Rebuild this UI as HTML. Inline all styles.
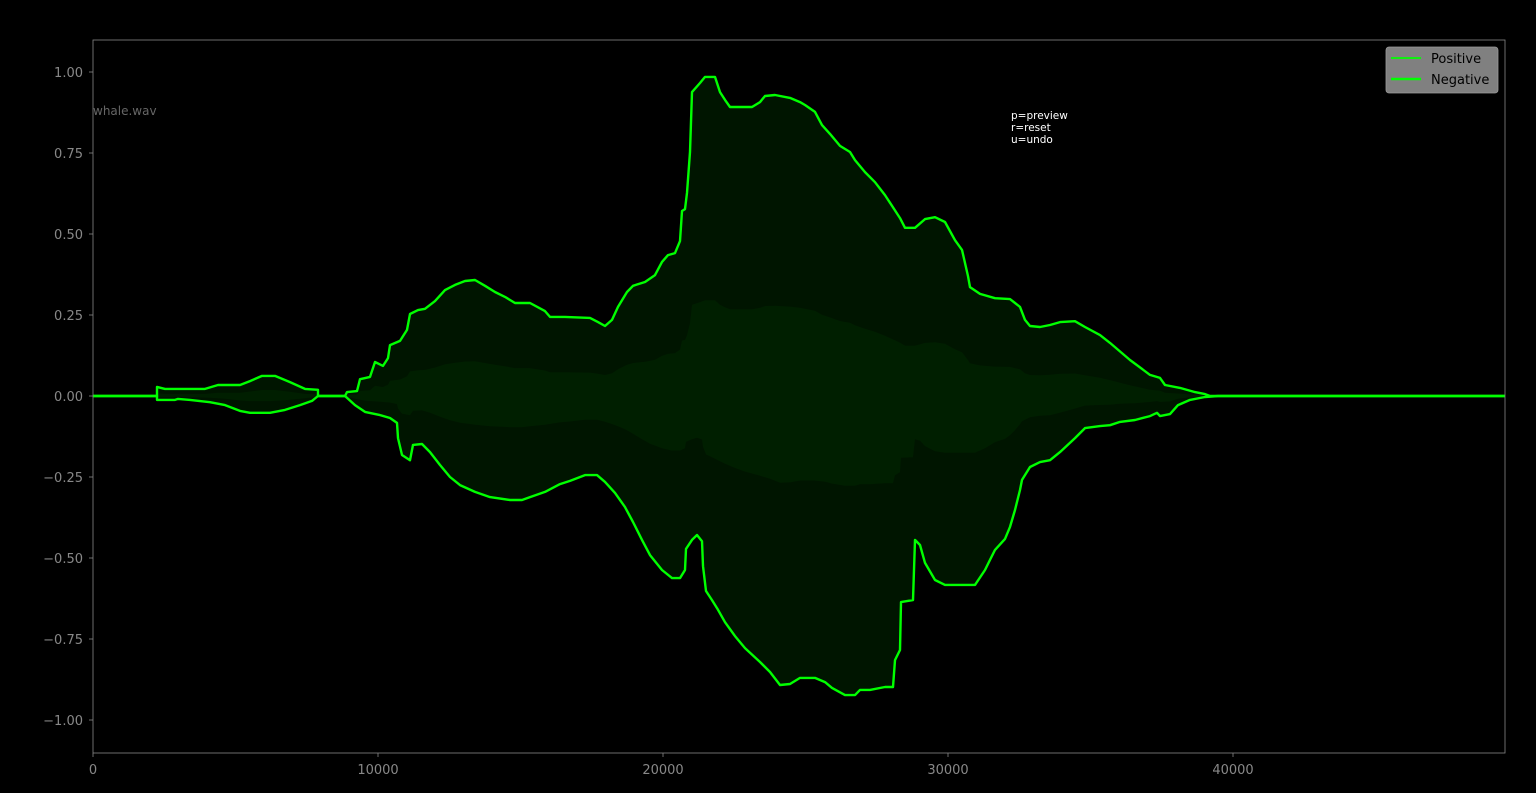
<!DOCTYPE html>
<html><head><meta charset="utf-8"><style>
html,body{margin:0;padding:0;background:#000;}
svg{display:block;font-family:"DejaVu Sans","Liberation Sans",sans-serif;}
</style></head><body>
<svg id="chart" width="1536" height="793" viewBox="0 0 1536 793">
<rect x="0" y="0" width="1536" height="793" fill="#000"/>
<g id="plot"></g>
<g id="axes"></g>
<text x="93" y="115" font-size="12" fill="#666">whale.wav</text>
<g font-size="10.5" fill="#fff">
<text x="1011" y="119">p=preview</text>
<text x="1011" y="131">r=reset</text>
<text x="1011" y="143">u=undo</text>
</g>
<g>
<rect x="1386" y="47" width="112" height="46" rx="3" fill="#808080" stroke="#999" stroke-width="0.8"/>
<line x1="1391" y1="58" x2="1421" y2="58" stroke="#00ff00" stroke-width="1.8"/>
<text x="1431" y="63" font-size="13" fill="#000">Positive</text>
<line x1="1391" y1="79" x2="1421" y2="79" stroke="#00ff00" stroke-width="2.6"/>
<text x="1431" y="84" font-size="13" fill="#000">Negative</text>
</g>
</svg>
<script>
const xTicks=[0,10000,20000,30000,40000];
const yTicks=[1.0,0.75,0.5,0.25,0.0,-0.25,-0.5,-0.75,-1.0];
const yTickLabels=["1.00","0.75","0.50","0.25","0.00","\u22120.25","\u22120.50","\u22120.75","\u22121.00"];
const posX=[0,2246,2246,2526,3930,4386,5158,5509,5930,6386,6912,7439,7895,7895,8842,8912,9263,9368,9719,9895,10175,10351,10421,10772,11018,11123,11404,11649,12000,12351,12702,13053,13404,13754,14105,14456,14807,15333,15860,16035,16561,17439,17719,17965,18211,18421,18737,18947,19368,19719,19965,20175,20421,20596,20667,20772,20842,20947,21018,21298,21474,21825,22000,22175,22351,23123,23404,23579,23930,24456,24807,24982,25333,25579,25860,26211,26561,26737,27088,27439,27789,28316,28491,28842,29193,29544,29895,30246,30491,30702,30772,31123,31649,32175,32526,32702,32877,33228,33579,33930,34456,34807,35333,35684,36386,37088,37439,37614,38140,38667,39018,39193,49544];
const posY=[0,0,0.028,0.022,0.022,0.034,0.034,0.046,0.062,0.062,0.043,0.022,0.019,0,0,0.012,0.015,0.052,0.059,0.105,0.093,0.117,0.157,0.170,0.204,0.253,0.265,0.269,0.293,0.327,0.343,0.355,0.358,0.340,0.321,0.306,0.287,0.287,0.262,0.244,0.244,0.241,0.228,0.216,0.235,0.275,0.321,0.340,0.352,0.373,0.414,0.435,0.441,0.478,0.571,0.577,0.627,0.753,0.938,0.966,0.985,0.985,0.938,0.914,0.892,0.892,0.907,0.926,0.929,0.920,0.907,0.898,0.877,0.836,0.809,0.772,0.753,0.728,0.691,0.660,0.620,0.549,0.519,0.519,0.546,0.552,0.537,0.481,0.451,0.370,0.336,0.315,0.302,0.299,0.275,0.235,0.216,0.213,0.219,0.228,0.231,0.213,0.188,0.164,0.111,0.065,0.056,0.034,0.025,0.012,0.006,0,0];
const negX=[0,2246,2246,2877,2982,3404,4105,4632,5158,5509,6211,6737,7263,7684,7895,8842,9193,9544,10070,10421,10667,10702,10842,11123,11228,11544,11825,12175,12526,12877,13404,13930,14632,15053,15333,15860,16386,16737,17263,17684,17965,18316,18667,18947,19263,19544,19965,20316,20596,20772,20807,21018,21193,21368,21404,21509,21719,21930,22175,22526,22877,23404,23754,24105,24456,24807,25333,25684,25930,26386,26737,26912,27263,27789,28070,28140,28316,28351,28772,28842,29018,29193,29544,29895,30947,31298,31474,31649,32000,32175,32351,32526,32596,32877,33228,33579,33930,34456,34807,35333,35684,36035,36561,37088,37333,37439,37789,38070,38491,39018,39474,49544];
const negY=[0,0,-0.012,-0.012,-0.009,-0.012,-0.019,-0.028,-0.046,-0.052,-0.052,-0.043,-0.028,-0.015,0,0,-0.028,-0.049,-0.059,-0.068,-0.083,-0.130,-0.182,-0.198,-0.151,-0.148,-0.173,-0.213,-0.250,-0.275,-0.296,-0.312,-0.321,-0.321,-0.312,-0.296,-0.272,-0.262,-0.244,-0.244,-0.265,-0.299,-0.343,-0.389,-0.444,-0.491,-0.537,-0.562,-0.562,-0.537,-0.472,-0.444,-0.429,-0.448,-0.525,-0.602,-0.630,-0.660,-0.698,-0.741,-0.778,-0.821,-0.852,-0.892,-0.889,-0.870,-0.870,-0.883,-0.901,-0.923,-0.923,-0.907,-0.907,-0.898,-0.898,-0.815,-0.784,-0.636,-0.630,-0.444,-0.460,-0.515,-0.568,-0.583,-0.583,-0.537,-0.506,-0.475,-0.441,-0.404,-0.352,-0.290,-0.259,-0.219,-0.204,-0.198,-0.173,-0.130,-0.099,-0.093,-0.090,-0.080,-0.074,-0.062,-0.052,-0.062,-0.056,-0.028,-0.012,-0.003,0,0];

const NS="http://www.w3.org/2000/svg";
const L=93,R=1505,T=40,B=753;
const xMax=49544;
const sx=v=>L+v/xMax*(R-L);
const sy=v=>396-v*324;
const plot=document.getElementById('plot'),axes=document.getElementById('axes');
function mk(tag,attrs,parent){const e=document.createElementNS(NS,tag);for(const k in attrs)e.setAttribute(k,attrs[k]);parent.appendChild(e);return e;}
function pts(xs,ys){return xs.map((x,i)=>sx(x).toFixed(1)+","+sy(ys[i]).toFixed(1));}

const body=mk('polygon',{points:pts(posX,posY).concat(pts(negX,negY).reverse()).join(" "),fill:"#001500"},plot);


const core=mk('polygon',{points:pts(posX,posY.map(v=>v*0.3)).concat(pts(negX,negY.map(v=>v*0.3)).reverse()).join(" "),fill:"#001f00"},plot);



const pl=mk('polyline',{points:pts(posX,posY).join(" "),fill:"none",stroke:"#00ff00","stroke-width":2.4,"stroke-linejoin":"round"},plot);


const nl=mk('polyline',{points:pts(negX,negY).join(" "),fill:"none",stroke:"#00ff00","stroke-width":2.4,"stroke-linejoin":"round"},plot);



const frame=mk('rect',{x:L,y:T,width:R-L,height:B-T,fill:"none",stroke:"#888","stroke-width":0.8},axes);


xTicks.forEach(v=>{
  const x=sx(v);
  const t=mk('line',{x1:x,y1:B,x2:x,y2:B+4,stroke:"#888","stroke-width":0.8},axes);
  
  
  const tx=mk('text',{x:x,y:B+21,"text-anchor":"middle","font-size":13,fill:"#888"},axes);
  tx.textContent=String(v);
  
  
});
yTicks.forEach((v,i)=>{
  const y=sy(v);
  const t=mk('line',{x1:L-4,y1:y,x2:L,y2:y,stroke:"#888","stroke-width":0.8},axes);
  
  
  const tx=mk('text',{x:L-10,y:y+5,"text-anchor":"end","font-size":13,fill:"#888"},axes);
  tx.textContent=yTickLabels[i];
  
  
});
</script>
</body></html>
